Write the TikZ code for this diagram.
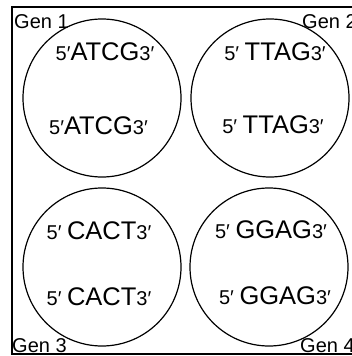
\documentclass[tikz,border=0pt]{standalone}
\usepackage{fontspec}
\setmainfont{Liberation Sans}
\newcommand{\smallp}[1]{{\fontsize{20}{20}\selectfont #1}}
\newcommand{\bigp}[1]{{\fontsize{25.5}{25.5}\selectfont #1}}
\begin{document}
\begin{tikzpicture}[x=1pt,y=-1pt,
  cell/.style={draw=black,line width=1.2pt,circle,minimum size=158pt,inner sep=0pt},
  seq/.style={anchor=base,inner sep=0pt},
  gen/.style={anchor=base west,inner sep=0pt,font=\fontsize{20}{20}\selectfont}]
\useasboundingbox (0,0) rectangle (352,356);
\begin{scope}
\clip (0,0) rectangle (352,356);
\draw[line width=1.5pt] (12,7) rectangle (362,354);
\end{scope}
\node[cell] (c1) at (102,98) {};
\node[cell] (c2) at (270,98) {};
\node[cell] (c3) at (102,267) {};
\node[cell] (c4) at (269,267) {};
\node[gen] (g1) at (14,28) {Gen 1};
\node[gen] (g2) at (302,28) {Gen 2};
\node[gen] (g3) at (12,352) {Gen 3};
\node[gen] (g4) at (300,352) {Gen 4};
\node[seq] (s1a) at (105,60) {\smallp{5′}\bigp{ATCG}\smallp{3′}};
\node[seq] (s1b) at (98.5,134) {\smallp{5′}\bigp{ATCG}\smallp{3′}};
\node[seq] (s2a) at (275,60) {\smallp{5′ }\bigp{TTAG}\smallp{3′}};
\node[seq] (s2b) at (273,133) {\smallp{5′ }\bigp{TTAG}\smallp{3′}};
\node[seq] (s3a) at (99,239) {\smallp{5′ }\bigp{CACT}\smallp{3′}};
\node[seq] (s3b) at (99,305) {\smallp{5′ }\bigp{CACT}\smallp{3′}};
\node[seq] (s4a) at (271,238) {\smallp{5′ }\bigp{GGAG}\smallp{3′}};
\node[seq] (s4b) at (275,304) {\smallp{5′ }\bigp{GGAG}\smallp{3′}};
\end{tikzpicture}
\end{document}
